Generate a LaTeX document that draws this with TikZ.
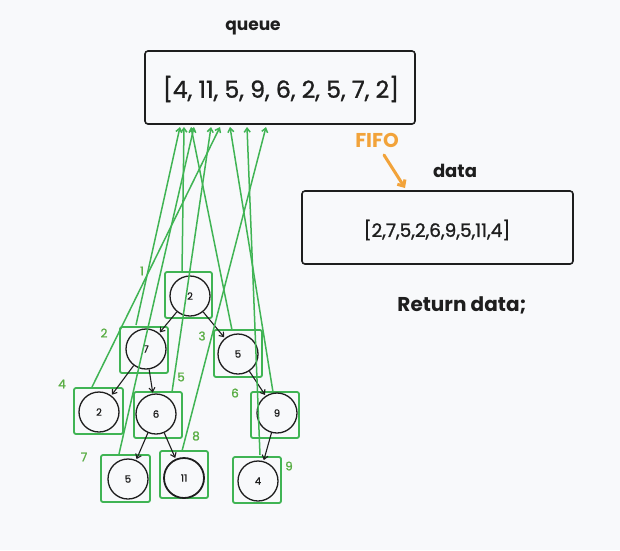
\documentclass[tikz,border=0pt]{standalone}
\usepackage{fontspec}
\setmainfont{Poppins}
\newfontfamily\medfont{Poppins}[FakeBold=1.2]
\usetikzlibrary{arrows.meta}
\definecolor{bg}{HTML}{F8F9FB}
\definecolor{grn}{HTML}{40B454}
\definecolor{lbl}{HTML}{5AAE45}
\definecolor{org}{HTML}{F2A33A}
\definecolor{ink}{HTML}{1E1E1E}
\begin{document}
\begin{tikzpicture}[x=1pt,y=-1pt,
  cnode/.style={circle,draw=ink,line width=1.3pt,minimum size=40pt,inner sep=0pt,font=\medfont\fontsize{10}{10}\selectfont,text=ink},
  gbox/.style={draw=grn,line width=1.8pt,rounded corners=2pt,minimum width=47pt,minimum height=46pt,inner sep=0pt},
  glbl/.style={text=lbl,font=\medfont\fontsize{12}{12}\selectfont},
  garrow/.style={draw=grn,line width=1.5pt,-{Straight Barb[length=4pt,width=6pt]}},
  tarrow/.style={draw=ink,line width=1.1pt,-{Straight Barb[length=4pt,width=6pt]},shorten >=1pt},
  bigbox/.style={draw=ink,line width=1.6pt,rounded corners=3pt,inner sep=0pt},
  ttl/.style={text=ink,font=\bfseries\fontsize{17}{17}\selectfont}]
\useasboundingbox (0,0) rectangle (620,550);
\fill[bg] (0,0) rectangle (620,550);

% titles and boxes
\node[ttl] (qlab) at (253,28) {queue};
\node[bigbox,minimum width=270pt,minimum height=73pt] (q) at (280,87.5) {};
\node[text=ink,font=\medfont\fontsize{23.5}{24}\selectfont] (qtext) at (281,89) {[4, 11, 5, 9, 6, 2, 5, 7, 2]};
\node[text=org,font=\bfseries\fontsize{20}{20}\selectfont] (fifo) at (377,140) {FIFO};
\node[ttl,font=\bfseries\fontsize{18}{18}\selectfont] (dlab) at (455,171) {data};
\node[bigbox,minimum width=271pt,minimum height=73pt] (d) at (437.5,227.5) {};
\node[text=ink,font=\medfont\fontsize{18.5}{19}\selectfont] (dtext) at (437,230) {[2,7,5,2,6,9,5,11,4]};
\node[ttl,font=\bfseries\fontsize{20}{20}\selectfont] (ret) at (462,305) {Return data;};
\coordinate (fa) at (384,155);
\coordinate (fb) at (405,188);
\draw[draw=org,line width=3pt,line cap=round,-{Straight Barb[length=5pt,width=9pt]}] (fa) -- (fb);

% green boxes
\node[gbox] (b1) at (188.5,295) {};
\node[gbox,minimum width=48pt] (b2) at (144,350) {};
\node[gbox,minimum width=48pt,minimum height=47pt] (b3) at (238,353.5) {};
\node[gbox,minimum width=49pt] (b4) at (98.5,411) {};
\node[gbox,minimum width=48pt] (b5) at (158,415) {};
\node[gbox,minimum width=48pt] (b6) at (275,415) {};
\node[gbox,minimum width=49pt,minimum height=47pt] (b7) at (125.5,478.5) {};
\node[gbox,minimum width=48pt,minimum height=47pt] (b8) at (184,474.5) {};
\node[gbox,minimum width=48pt,minimum height=46pt] (b9) at (257,480) {};

% circles
\node[cnode] (c1) at (190,296) {2};
\node[cnode] (c2) at (146,349) {7};
\node[cnode] (c3) at (238,354) {5};
\node[cnode] (c4) at (99,412) {2};
\node[cnode] (c5) at (156,414) {6};
\node[cnode] (c6) at (277,413) {9};
\node[cnode] (c7) at (128,479) {5};
\node[cnode,line width=1.8pt] (c8) at (184,478) {11};
\node[cnode] (c9) at (258,481) {4};

% tree edges
\draw[tarrow] (c1) -- (c2);
\draw[tarrow] (c1) -- (c3);
\draw[tarrow] (c2) -- (c4);
\draw[tarrow] (c2) -- (c5);
\draw[tarrow] (c3) -- (c6);
\draw[tarrow] (c5) -- (c7);
\draw[tarrow] (c5) -- (c8);
\draw[tarrow] (c6) -- (c9);

% order labels
\node[glbl] (l1) at (142,271) {1};
\node[glbl] (l2) at (104,333) {2};
\node[glbl] (l3) at (202,336) {3};
\node[glbl] (l4) at (62,384) {4};
\node[glbl] (l5) at (181,377) {5};
\node[glbl] (l6) at (235,393) {6};
\node[glbl] (l7) at (84,457) {7};
\node[glbl] (l8) at (196,436) {8};
\node[glbl] (l9) at (289,466) {9};

% green arrows to queue
\coordinate (s1) at (182,272); \coordinate (h1) at (184,127);
\coordinate (s2) at (136,325); \coordinate (h2) at (180,127);
\coordinate (s3) at (232,330); \coordinate (h3) at (191,127);
\coordinate (s4) at (92,387);  \coordinate (h4) at (220,127);
\coordinate (s5) at (172,392); \coordinate (h5) at (211,127);
\coordinate (s6) at (273,392); \coordinate (h6) at (230,127);
\coordinate (s7) at (119,454); \coordinate (h7) at (194,127);
\coordinate (s8) at (182,451); \coordinate (h8) at (266,127);
\coordinate (s9) at (260,455); \coordinate (h9) at (247,127);
\foreach \i in {1,...,9} {\draw[garrow] (s\i) -- (h\i);}
\end{tikzpicture}
\end{document}
